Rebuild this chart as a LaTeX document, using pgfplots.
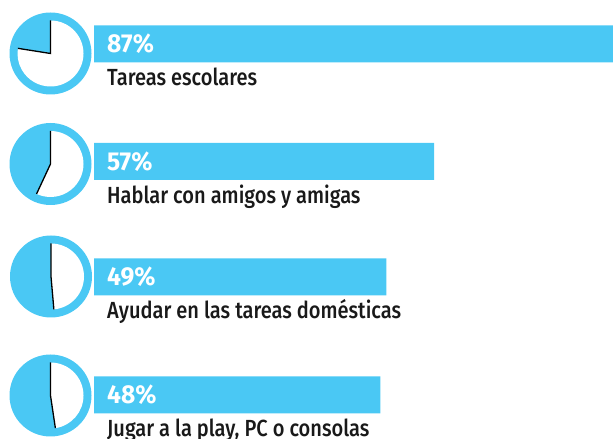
\documentclass[border=0pt]{standalone}
\usepackage{pgfplots}
\pgfplotsset{compat=1.18}
\usepackage{fontspec}
\setmainfont{Fira Sans}
\newfontfamily\lblfont{Fira Sans Medium}[FakeStretch=0.86]
\newfontfamily\pctfont{Fira Sans Bold}[FakeStretch=0.95]
\definecolor{barblue}{RGB}{74,200,244}
\begin{document}
\begin{tikzpicture}[x=1bp,y=1bp]
\path[use as bounding box] (0,0) rectangle (613,439);
\begin{axis}[at={(94bp,0bp)}, anchor=south west, scale only axis,
  width=519bp, height=439bp, xmin=0, xmax=87, ymin=0, ymax=439,
  hide axis, clip=false, xbar, bar width=37bp, bar shift=0pt]
\addplot[fill=barblue, draw=none] coordinates {(87,395) (57,277.5) (49,162) (48,44)};
\tikzset{pct/.style={anchor=base west, inner sep=0pt, text=white, xshift=13bp, font=\pctfont\fontsize{26}{26}\selectfont},
         lbl/.style={anchor=base west, inner sep=0pt, text=black!90, xshift=13bp, font=\lblfont\fontsize{23.4}{24}\selectfont}}
\node[pct] at (axis cs:0,386) {87\%};
\node[lbl] at (axis cs:0,353) {Tareas escolares};
\node[pct] at (axis cs:0,268.5) {57\%};
\node[lbl] at (axis cs:0,235.5) {Hablar con amigos y amigas};
\node[pct] at (axis cs:0,153) {49\%};
\node[lbl] at (axis cs:0,120) {Ayudar en las tareas domésticas};
\node[pct] at (axis cs:0,35) {48\%};
\node[lbl] at (axis cs:0,2) {Jugar a la play, PC o consolas};
\end{axis}
\foreach \cx/\cy/\ea in {50.5/385.5/-189, 50.5/275/-115, 51/162.5/-85, 50.5/43.5/-81.5}{
  \fill[barblue] (\cx,\cy) circle (41);
  \fill[white] (\cx,\cy) -- ++(90:33) arc[start angle=90, end angle=\ea, radius=33] -- cycle;
  \draw[black, line width=1.3bp] (\cx,\cy) ++(90:33) -- (\cx,\cy) -- ++(\ea:33);
}
\end{tikzpicture}
\end{document}
